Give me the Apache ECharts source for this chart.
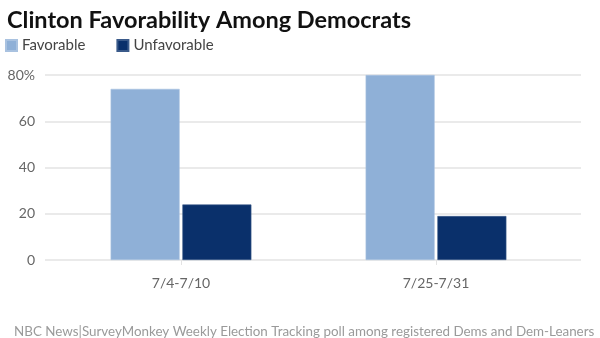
<!DOCTYPE html>
<html>
<head>
<meta charset="utf-8">
<script src="https://cdn.jsdelivr.net/npm/echarts@6/dist/echarts.min.js"></script>
<style>
  html, body { margin: 0; padding: 0; background: #fff; }
  #chart { width: 600px; height: 338px; }
</style>
</head>
<body>
<div id="chart"></div>
<script>
// Poll periods and shares of Democrats (percent)
const periods = ['7/4-7/10', '7/25-7/31'];
const favorable = [74, 80];
const unfavorable = [24, 19];
const yTicks = [0, 20, 40, 60, 80];

const FONT = 'Lato, "Open Sans", sans-serif';
const yMin = yTicks[0];
const yMax = yTicks[yTicks.length - 1];
const yStep = yTicks[1] - yTicks[0];

const chart = echarts.init(document.getElementById('chart'), null, { renderer: 'canvas' });

chart.setOption({
  animation: false,
  backgroundColor: '#ffffff',
  color: ['#8fb0d7', '#0a306b'],
  title: [
    {
      text: 'Clinton Favorability Among Democrats',
      left: 2, top: 3,
      textStyle: { fontFamily: FONT, fontWeight: 'bold', fontSize: 23.5, color: '#111' }
    },
    {
      text: 'NBC News|SurveyMonkey Weekly Election Tracking poll among registered Dems and Dem-Leaners',
      left: 9, top: 320,
      textStyle: { fontFamily: FONT, fontWeight: 'normal', fontSize: 13.4, color: '#9a9a9a' }
    }
  ],
  legend: {
    left: 5, top: 38, padding: 0,
    itemWidth: 11, itemHeight: 11, itemGap: 31,
    icon: 'rect',
    textStyle: { fontFamily: FONT, fontSize: 15, color: '#444' },
    data: ['Favorable', 'Unfavorable']
  },
  grid: [
    // full-width grid carrying the value scale and gridlines
    { left: 45, right: 19, top: 75, bottom: 78 },
    // inner grid carrying the category bands and bars
    { left: 53.5, right: 36.5, top: 75, bottom: 78 }
  ],
  xAxis: [
    { type: 'value', gridIndex: 0, show: false },
    {
      type: 'category', gridIndex: 1, data: periods,
      axisLine: { show: false },
      axisTick: { show: true, alignWithLabel: true, length: 5, lineStyle: { color: '#e3e3e3' } },
      axisLabel: { fontFamily: FONT, fontSize: 14, color: '#666', margin: 16 }
    }
  ],
  yAxis: [
    {
      type: 'value', gridIndex: 0, min: yMin, max: yMax, interval: yStep,
      axisLine: { show: false }, axisTick: { show: false },
      splitLine: { lineStyle: { color: '#e3e3e3', width: 1.5 } },
      axisLabel: {
        fontFamily: FONT, fontSize: 14, color: '#666', margin: 10,
        formatter: v => (v === yMax ? v + '%' : String(v))
      }
    },
    {
      type: 'value', gridIndex: 1, min: yMin, max: yMax, interval: yStep,
      show: false, splitLine: { show: false }
    }
  ],
  series: [
    {
      name: 'Favorable', type: 'bar', xAxisIndex: 1, yAxisIndex: 1,
      data: favorable, barWidth: 69, barGap: '4%',
      itemStyle: { color: '#8fb0d7', borderColor: '#a9c2e0', borderWidth: 0.6 }
    },
    {
      name: 'Unfavorable', type: 'bar', xAxisIndex: 1, yAxisIndex: 1,
      data: unfavorable, barWidth: 69, barGap: '4%',
      itemStyle: { color: '#0a306b', borderColor: '#3a5a8a', borderWidth: 0.6 }
    }
  ]
});
</script>
</body>
</html>
